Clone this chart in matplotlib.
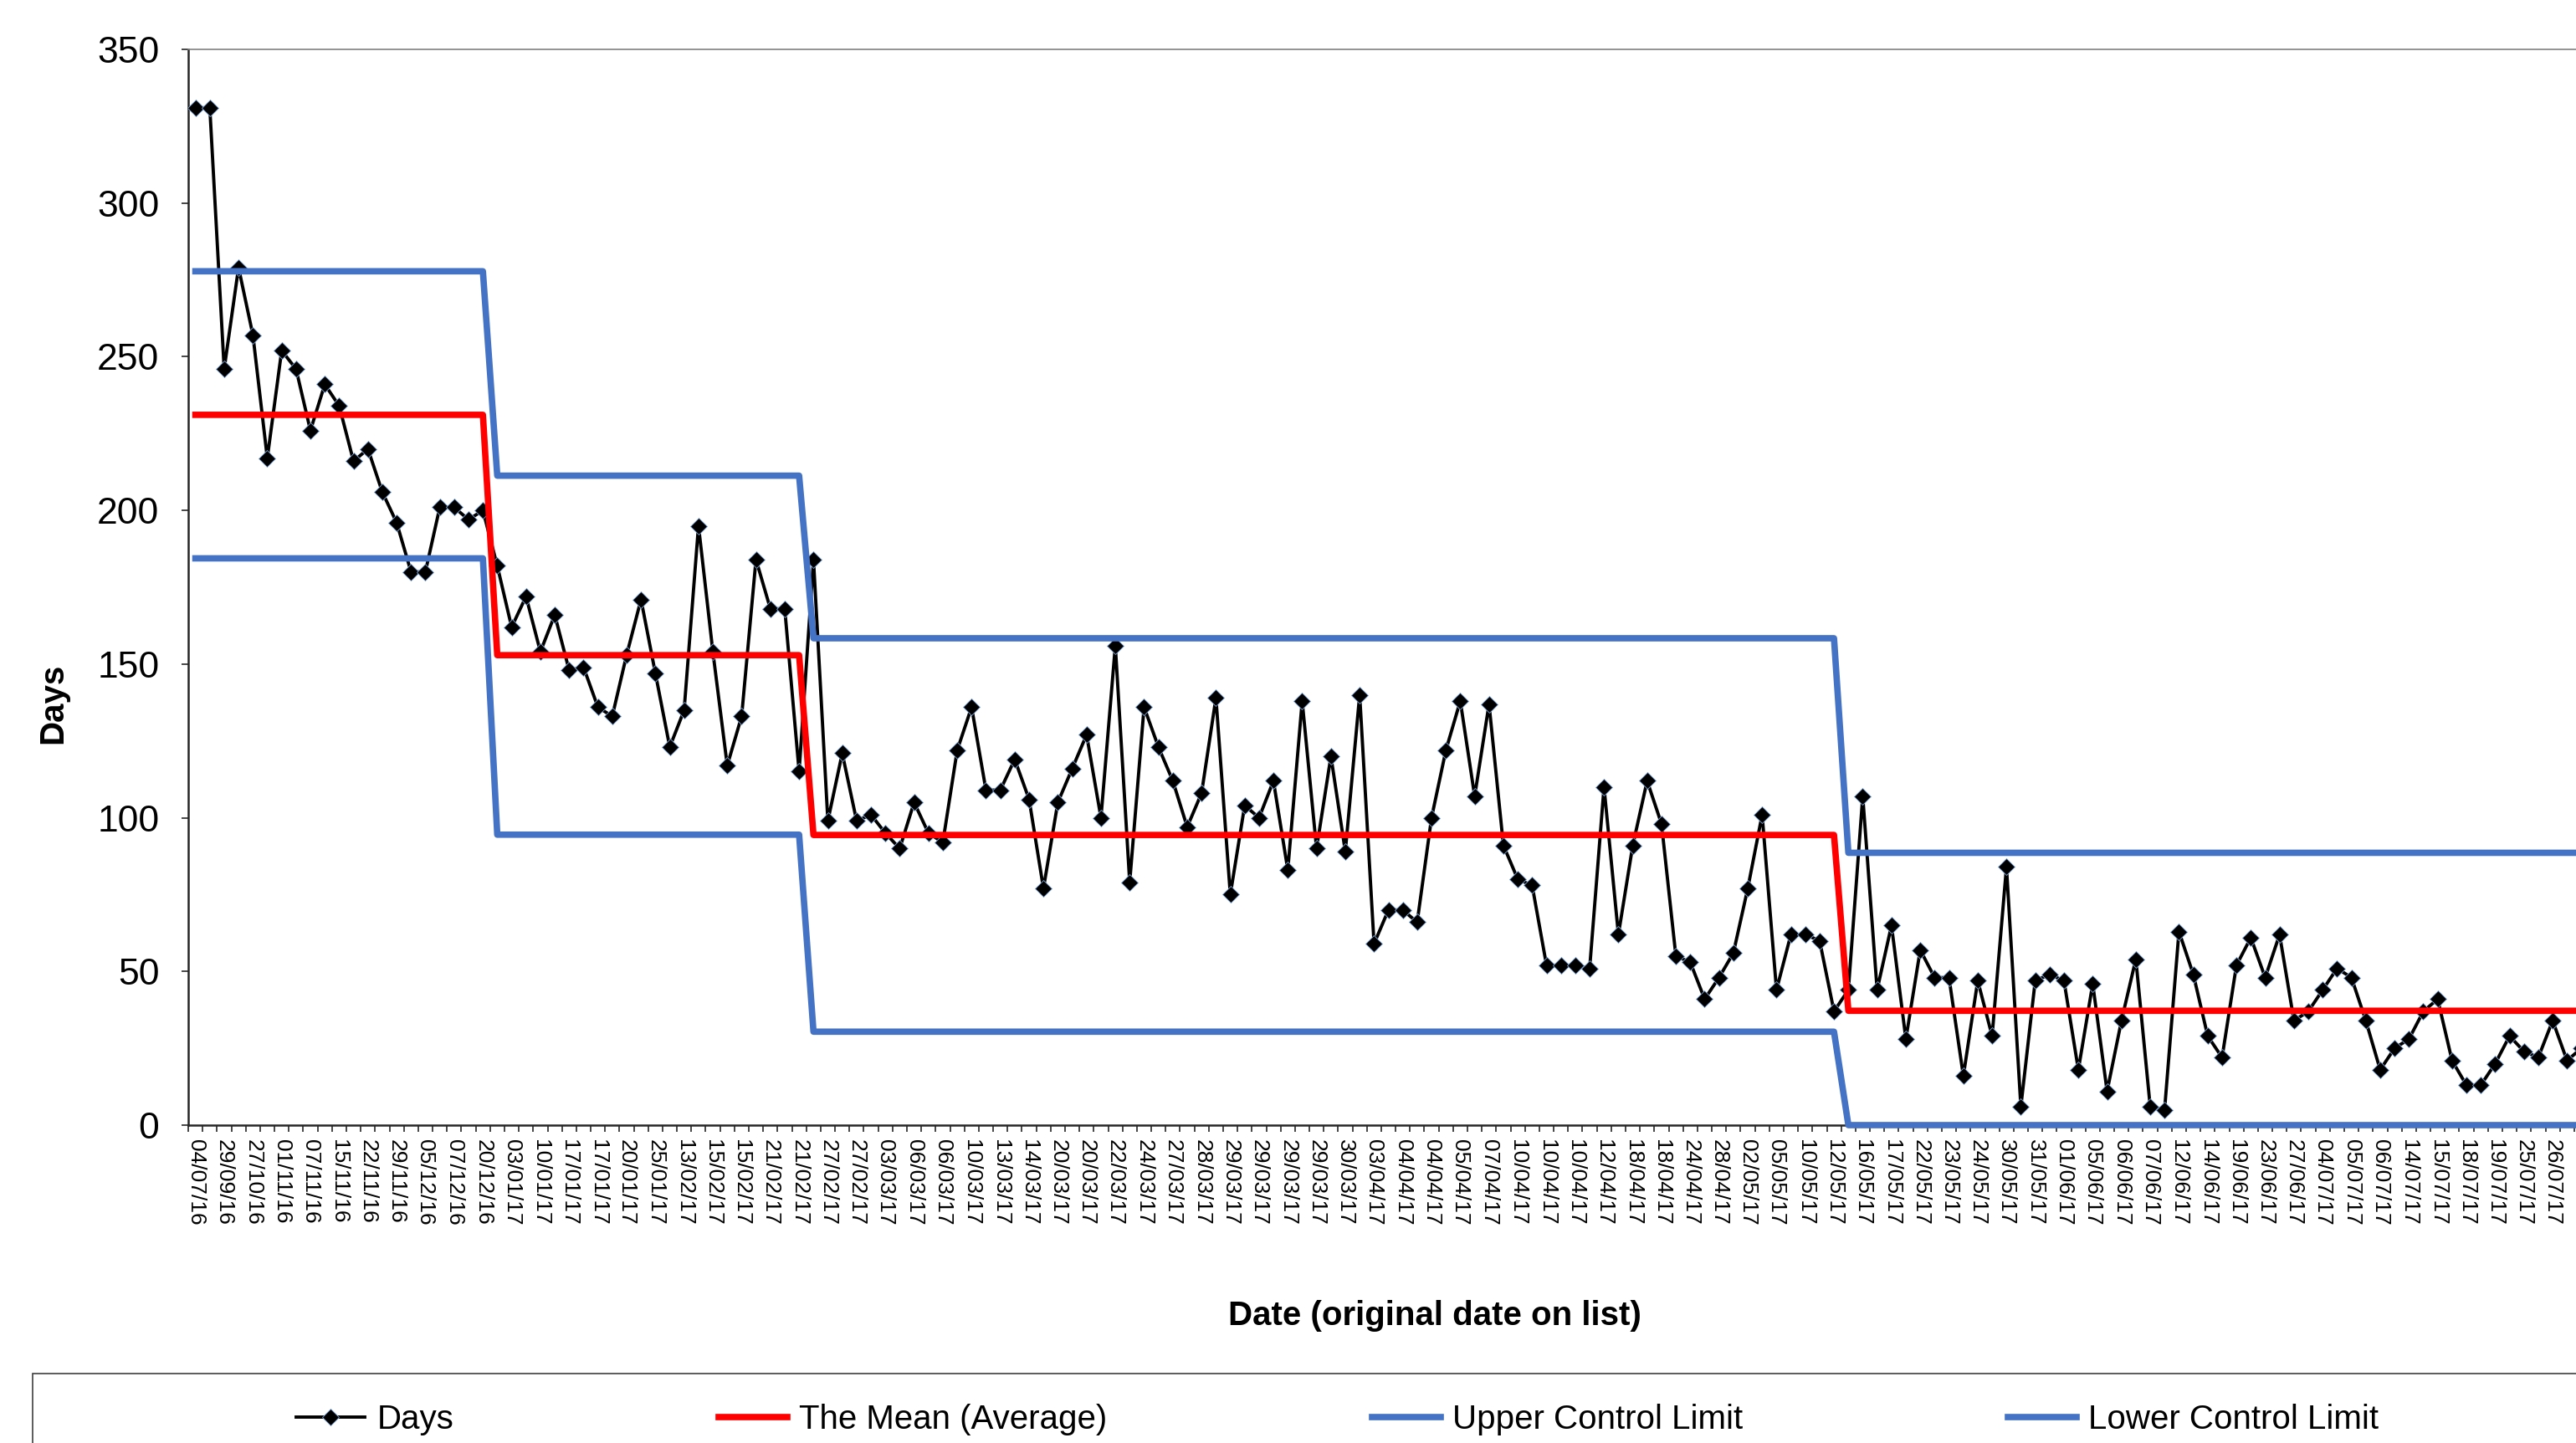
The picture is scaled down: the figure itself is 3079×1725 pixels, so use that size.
import numpy as np
import matplotlib
matplotlib.use("Agg")
import matplotlib.pyplot as plt
from matplotlib.lines import Line2D
from matplotlib.patches import Rectangle

plt.rcParams['font.family'] = ['Liberation Sans', 'DejaVu Sans']

# --- Data (one value per category) ---
days = [331, 331, 246, 279, 257, 217, 252, 246, 226, 241,
        234, 216, 220, 206, 196, 180, 180, 201, 201, 197,
        200, 182, 162, 172, 154, 166, 148, 149, 136, 133,
        153, 171, 147, 123, 135, 195, 154, 117, 133, 184,
        168, 168, 115, 184, 99, 121, 99, 101, 95, 90,
        105, 95, 92, 122, 136, 109, 109, 119, 106, 77,
        105, 116, 127, 100, 156, 79, 136, 123, 112, 97,
        108, 139, 75, 104, 100, 112, 83, 138, 90, 120,
        89, 140, 59, 70, 70, 66, 100, 122, 138, 107,
        137, 91, 80, 78, 52, 52, 52, 51, 110, 62,
        91, 112, 98, 55, 53, 41, 48, 56, 77, 101,
        44, 62, 62, 60, 37, 44, 107, 44, 65, 28,
        57, 48, 48, 16, 47, 29, 84, 6, 47, 49,
        47, 18, 46, 11, 34, 54, 6, 5, 63, 49,
        29, 22, 52, 61, 48, 62, 34, 37, 44, 51,
        48, 34, 18, 25, 28, 37, 41, 21, 13, 13,
        20, 29, 24, 22, 34, 21, 25]

# every other category carries a label
date_labels = ["04/07/16", "29/09/16", "27/10/16", "01/11/16", "07/11/16", "15/11/16",
               "22/11/16", "29/11/16", "05/12/16", "07/12/16", "20/12/16", "03/01/17",
               "10/01/17", "17/01/17", "17/01/17", "20/01/17", "25/01/17", "13/02/17",
               "15/02/17", "15/02/17", "21/02/17", "21/02/17", "27/02/17", "27/02/17",
               "03/03/17", "06/03/17", "06/03/17", "10/03/17", "13/03/17", "14/03/17",
               "20/03/17", "20/03/17", "22/03/17", "24/03/17", "27/03/17", "28/03/17",
               "29/03/17", "29/03/17", "29/03/17", "29/03/17", "30/03/17", "03/04/17",
               "04/04/17", "04/04/17", "05/04/17", "07/04/17", "10/04/17", "10/04/17",
               "10/04/17", "12/04/17", "18/04/17", "18/04/17", "24/04/17", "28/04/17",
               "02/05/17", "05/05/17", "10/05/17", "12/05/17", "16/05/17", "17/05/17",
               "22/05/17", "23/05/17", "24/05/17", "30/05/17", "31/05/17", "01/06/17",
               "05/06/17", "06/06/17", "07/06/17", "12/06/17", "14/06/17", "19/06/17",
               "23/06/17", "27/06/17", "04/07/17", "05/07/17", "06/07/17", "14/07/17",
               "15/07/17", "18/07/17", "19/07/17", "25/07/17", "26/07/17", "28/07/17"]

# control limit segments (first category of each segment)
seg_start = [0, 21, 43, 115]
seg_mean = [231.1, 152.9, 94.4, 37.2]
seg_ucl = [277.8, 211.3, 158.4, 88.6]
seg_lcl = [184.4, 94.5, 30.4, 0.0]

legend_labels = ["Days", "The Mean (Average)", "Upper Control Limit", "Lower Control Limit"]

# --- Layout (pixels of the 3079x1725 canvas) ---
W, H = 3079, 1725
CAT_W = 17.18
N_CATS = 174  # plot area runs past the right edge of the picture
BLUE = '#4472C4'

n = len(days)
x = np.arange(n)
seg_len = np.diff(seg_start + [n])
mean_line = np.repeat(seg_mean, seg_len)
ucl_line = np.repeat(seg_ucl, seg_len)
lcl_line = np.repeat(seg_lcl, seg_len)

fig = plt.figure(figsize=(W / 100, H / 100), dpi=100)
ax = fig.add_axes([225 / W, 1 - 1345 / H, N_CATS * CAT_W / W, (1345 - 59) / H])

ax.plot(x, days, color='black', lw=2.8, marker='D', ms=10,
        mfc='black', mec='#7fa7d9', mew=0.6, zorder=3)
ax.plot(x, mean_line, color='red', lw=5.5, zorder=4, clip_on=False)
ax.plot(x, ucl_line, color=BLUE, lw=5.5, zorder=5, clip_on=False)
ax.plot(x, lcl_line, color=BLUE, lw=5.5, zorder=5, clip_on=False)

ax.set_xlim(-0.5, N_CATS - 0.5)
ax.set_ylim(0, 350)

ax.set_xticks(x[::2])
ax.set_xticklabels(date_labels, rotation=270, fontsize=19)
ax.set_xticks(np.arange(-0.5, N_CATS, 1), minor=True)
ax.tick_params(axis='x', which='major', length=0, pad=12)
ax.tick_params(axis='x', which='minor', length=6, width=1.2, direction='out', color='#262626')

ax.set_yticks(range(0, 351, 50))
ax.tick_params(axis='y', labelsize=32, length=6, width=1.2, pad=19, color='#262626')

for side in ['left', 'bottom']:
    ax.spines[side].set_color('#262626')
    ax.spines[side].set_linewidth(1.8)
ax.spines['top'].set_color('#808080')
ax.spines['top'].set_linewidth(1.2)
ax.spines['right'].set_color('#808080')

fig.text(63 / W, 1 - 841 / H, "Days", rotation=90, fontsize=29, fontweight='bold',
         ha='center', va='center')
fig.text(1715 / W, 1 - 1573 / H, "Date (original date on list)", fontsize=29,
         fontweight='bold', ha='center', va='center')

# legend box, cut by the right and bottom edges like the original
fig.add_artist(Rectangle((39 / W, -0.2), 1.2, 0.2 + (1 - 1642 / H),
                         transform=fig.transFigure, fill=False,
                         edgecolor='#404040', lw=1.2))
handles = [Line2D([], [], color='black', lw=2.8, marker='D', ms=10, mfc='black',
                  mec='#7fa7d9', mew=0.6),
           Line2D([], [], color='red', lw=5.5),
           Line2D([], [], color=BLUE, lw=5.5),
           Line2D([], [], color=BLUE, lw=5.5)]
fig.legend(handles, legend_labels, loc='center left',
           bbox_to_anchor=(354 / W, 1 - 1697 / H), bbox_transform=fig.transFigure,
           ncol=4, frameon=False, fontsize=29, handlelength=2.04,
           handletextpad=0.35, columnspacing=7.86, borderpad=0, borderaxespad=0)

fig.savefig("out.png", dpi=100)
